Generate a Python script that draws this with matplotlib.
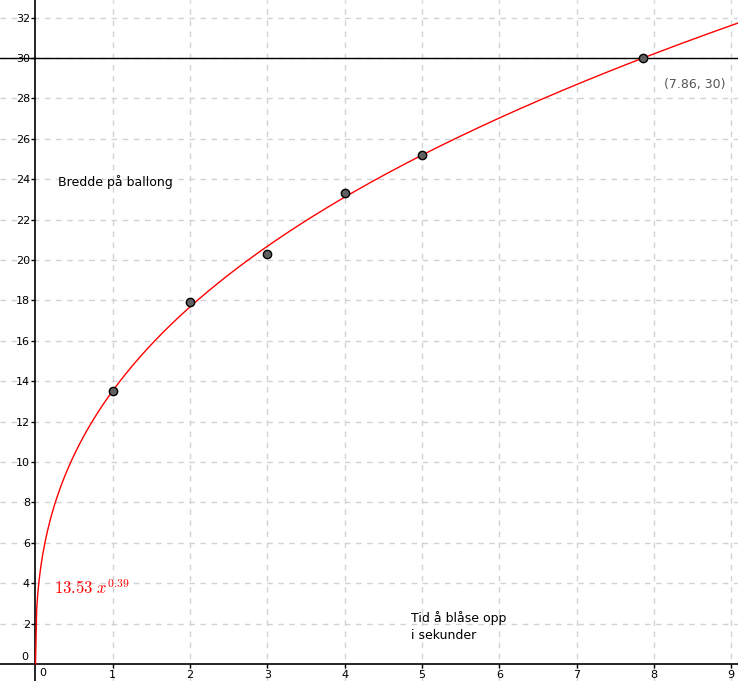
import numpy as np
import matplotlib
matplotlib.use("Agg")
import matplotlib.pyplot as plt

# Data
x_points = [1, 2, 3, 4, 5]
y_points = [13.5, 17.9, 20.3, 23.3, 25.2]
coef = 13.53
expo = 0.3862
intersect_x = 7.86
intersect_y = 30
x_ticks = [1, 2, 3, 4, 5, 6, 7, 8, 9]
y_ticks = [2, 4, 6, 8, 10, 12, 14, 16, 18, 20, 22, 24, 26, 28, 30, 32]

fig = plt.figure(figsize=(7.38, 6.81), dpi=100)
ax = fig.add_axes([0, 0, 1, 1])
ax.set_xlim(-0.459, 9.088)
ax.set_ylim(-0.84, 32.87)

# grid
for xv in x_ticks:
    ax.axvline(xv, color="#d2d2d2", lw=1, ls=(0, (4, 4)), zorder=0)
for yv in y_ticks:
    ax.axhline(yv, color="#d2d2d2", lw=1, ls=(0, (4, 4)), zorder=0)

# axes through origin
for s in ["top", "right"]:
    ax.spines[s].set_visible(False)
ax.spines["left"].set_position(("data", 0))
ax.spines["bottom"].set_position(("data", 0))
ax.spines["left"].set_linewidth(1.2)
ax.spines["bottom"].set_linewidth(1.2)
ax.set_xticks(x_ticks)
ax.set_yticks(y_ticks)
ax.tick_params(axis="both", direction="out", length=3, width=1, labelsize=8,
               colors="black", pad=1)
ax.text(0.1, -0.2, "0", fontsize=8, ha="center", va="top")
ax.text(-0.1, 0.35, "0", fontsize=8, ha="right", va="center")

# horizontal line y=30
ax.axhline(intersect_y, color="black", lw=1, zorder=2)

# curve
xs = np.linspace(0, 9.2, 600)
ax.plot(xs, coef * xs ** expo, color="red", lw=1, zorder=3)

# points
ax.scatter(x_points + [intersect_x], y_points + [intersect_y], s=36,
           facecolor="#606060", edgecolor="black", linewidths=1, zorder=4)

# labels
ax.text(0.29, 23.86, "Bredde på ballong", fontsize=9, ha="left", va="center")
ax.text(4.86, 2.6, "Tid å blåse opp\ni sekunder", fontsize=9, ha="left", va="top",
        linespacing=1.4)
ax.text(0.24, 3.75, r"$\mathbf{13.53}\ x^{\mathbf{0.39}}$", color="red", fontsize=12,
        math_fontfamily="cm", ha="left", va="center")
ax.text(8.13, 28.7, "(7.86, 30)", color="#555555", fontsize=9, ha="left", va="center")

fig.savefig("out.png", dpi=100)
